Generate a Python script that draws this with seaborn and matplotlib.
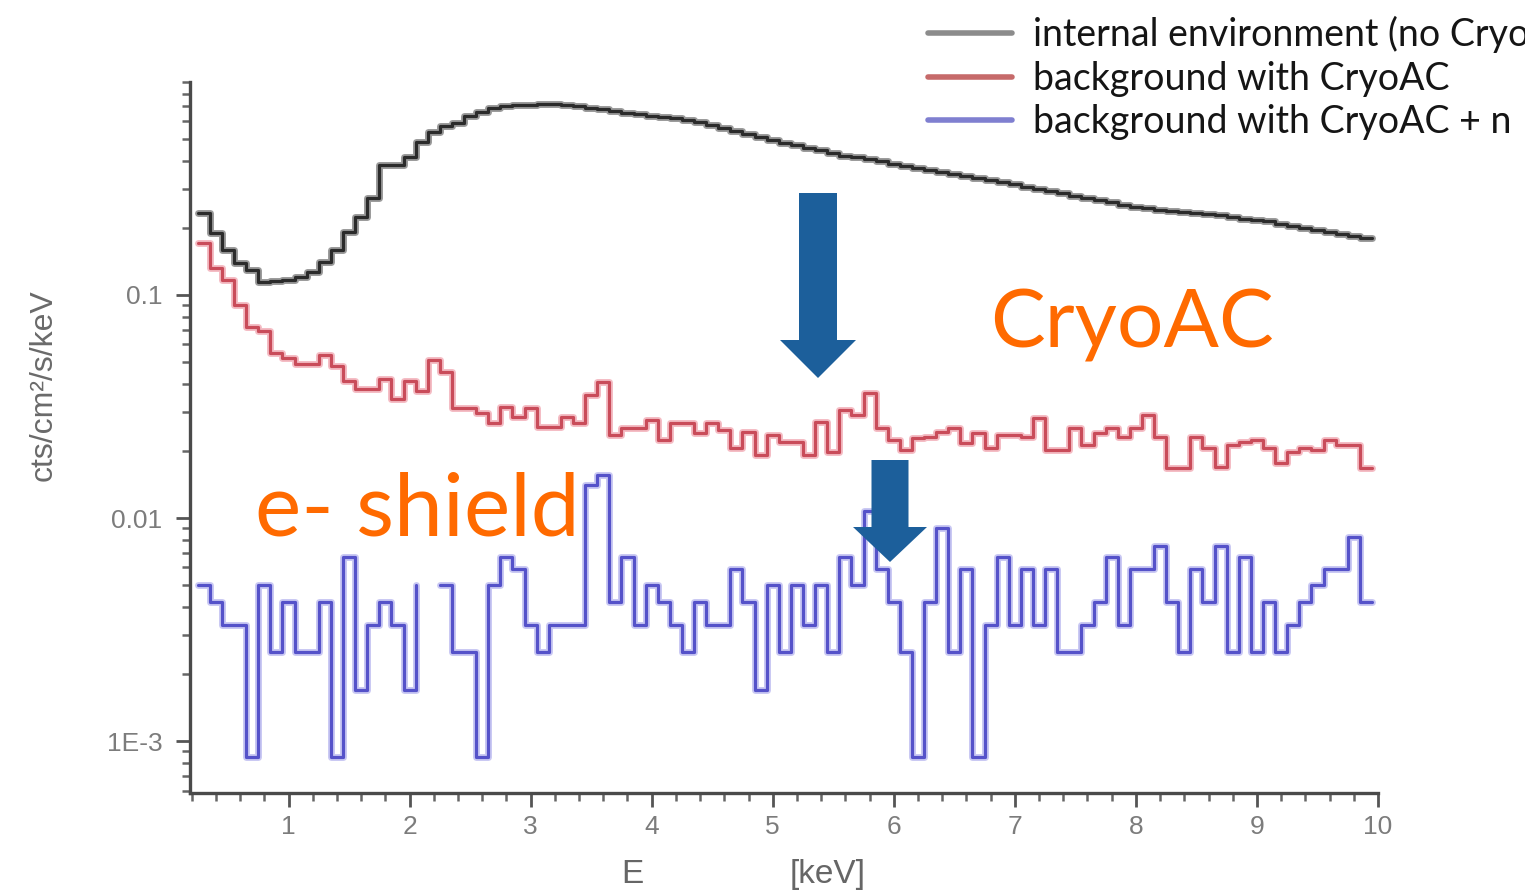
import numpy as np
import pandas as pd
import matplotlib
matplotlib.use("Agg")
import matplotlib.pyplot as plt
import matplotlib.ticker as mticker
import matplotlib.patheffects as pe
from matplotlib.lines import Line2D
from matplotlib.patches import FancyArrow
import seaborn as sns

# ---- energy binning (keV) -------------------------------------------------
bin_start = 0.25
bin_width = 0.1
n_bins = 97

# ---- spectra: cts/cm^2/s/keV per 0.1 keV bin ------------------------------
internal_env = [
    0.232, 0.189, 0.159, 0.139, 0.129, 0.114, 0.115, 0.117, 0.121, 0.127,
    0.141, 0.159, 0.192, 0.224, 0.271, 0.383, 0.383, 0.417, 0.487, 0.540,
    0.570, 0.590, 0.632, 0.664, 0.687, 0.700, 0.708, 0.714, 0.718, 0.716,
    0.712, 0.700, 0.690, 0.680, 0.665, 0.655, 0.645, 0.636, 0.628, 0.620,
    0.610, 0.596, 0.578, 0.560, 0.543, 0.527, 0.511, 0.496, 0.480, 0.470,
    0.456, 0.447, 0.433, 0.420, 0.415, 0.406, 0.398, 0.386, 0.378, 0.370,
    0.363, 0.356, 0.348, 0.341, 0.334, 0.328, 0.321, 0.314, 0.305, 0.299,
    0.293, 0.287, 0.278, 0.272, 0.267, 0.261, 0.253, 0.248, 0.245, 0.240,
    0.238, 0.235, 0.233, 0.231, 0.228, 0.224, 0.219, 0.217, 0.214, 0.208,
    0.204, 0.200, 0.195, 0.191, 0.187, 0.183, 0.180,
]

with_cryoac = [
    0.171, 0.132, 0.117, 0.090, 0.072, 0.069, 0.055, 0.052, 0.049, 0.049,
    0.054, 0.048, 0.041, 0.038, 0.038, 0.042, 0.034, 0.041, 0.037, 0.051,
    0.045, 0.031, 0.031, 0.0295, 0.0266, 0.0316, 0.0284, 0.031, 0.0257, 0.0257,
    0.0284, 0.0266, 0.0356, 0.0409, 0.0236, 0.0252, 0.0252, 0.0275, 0.0224, 0.0266,
    0.0266, 0.024, 0.0266, 0.0248, 0.0206, 0.0244, 0.0192, 0.0236, 0.022, 0.022,
    0.0192, 0.027, 0.0198, 0.0305, 0.029, 0.0362, 0.0252, 0.0224, 0.0202, 0.0228,
    0.0232, 0.0244, 0.0252, 0.0216, 0.024, 0.0206, 0.0236, 0.0236, 0.0232, 0.028,
    0.0202, 0.0202, 0.0252, 0.0212, 0.024, 0.0252, 0.0232, 0.0252, 0.029, 0.0232,
    0.0167, 0.0167, 0.0232, 0.0206, 0.017, 0.0212, 0.022, 0.0224, 0.0206, 0.0176,
    0.0198, 0.0206, 0.0202, 0.0224, 0.0212, 0.0212, 0.0167,
]

# nan marks an empty bin (no counts, not shown on the log axis)
with_cryoac_shield = [
    5.0e-3, 4.2e-3, 3.3e-3, 3.3e-3, 8.5e-4, 5.0e-3, 2.5e-3, 4.2e-3, 2.5e-3, 2.5e-3,
    4.2e-3, 8.5e-4, 6.7e-3, 1.7e-3, 3.3e-3, 4.2e-3, 3.3e-3, 1.7e-3, 5.0e-3, np.nan,
    5.0e-3, 2.5e-3, 2.5e-3, 8.5e-4, 5.0e-3, 6.7e-3, 5.9e-3, 3.3e-3, 2.5e-3, 3.3e-3,
    3.3e-3, 3.3e-3, 0.0141, 0.0156, 4.2e-3, 6.7e-3, 3.3e-3, 5.0e-3, 4.2e-3, 3.3e-3,
    2.5e-3, 4.2e-3, 3.3e-3, 3.3e-3, 5.9e-3, 4.2e-3, 1.7e-3, 5.0e-3, 2.5e-3, 5.0e-3,
    3.3e-3, 5.0e-3, 2.5e-3, 6.7e-3, 5.0e-3, 0.0107, 5.9e-3, 4.2e-3, 2.5e-3, 8.5e-4,
    4.2e-3, 9.0e-3, 2.5e-3, 5.9e-3, 8.5e-4, 3.3e-3, 6.7e-3, 3.3e-3, 5.9e-3, 3.3e-3,
    5.9e-3, 2.5e-3, 2.5e-3, 3.3e-3, 4.2e-3, 6.7e-3, 3.3e-3, 5.9e-3, 5.9e-3, 7.5e-3,
    4.2e-3, 2.5e-3, 5.9e-3, 4.2e-3, 7.5e-3, 2.5e-3, 6.7e-3, 2.5e-3, 4.2e-3, 2.5e-3,
    3.3e-3, 4.2e-3, 5.0e-3, 5.9e-3, 5.9e-3, 8.2e-3, 4.2e-3,
]

series_names = ["internal environment (no CryoAC)",
                "background with CryoAC",
                "background with CryoAC + n"]
series_values = [internal_env, with_cryoac, with_cryoac_shield]

y_tick_values = [1e-3, 1e-2, 1e-1]
y_tick_labels = ["1E-3", "0.01", "0.1"]
x_tick_values = [1, 2, 3, 4, 5, 6, 7, 8, 9, 10]

# ---- styling ---------------------------------------------------------------
line_colors = ["#2b2b2b", "#c94c5a", "#5552c9"]
halo_colors = ["#9a9a9a", "#f4bcc4", "#c9c8f3"]
legend_colors = ["#8c8c8c", "#c66a6a", "#7f7fd0"]
arrow_color = "#1c5f9b"
accent_color = "#ff6a00"

sns.set_theme(style="ticks")
plt.rcParams["font.family"] = ["Liberation Sans", "DejaVu Sans"]

edges = bin_start + bin_width * np.arange(n_bins + 1)


def histogram_rows(values, name):
    """Step-post vertices per bin; empty bins split the line into segments."""
    vals = np.asarray(values, dtype=float)
    rows, seg = [], 0
    for i, v in enumerate(vals):
        if np.isnan(v):
            seg += 1
            continue
        rows.append((edges[i], v, name, f"{name}#{seg}"))
    rows.append((edges[len(vals)], vals[-1], name, f"{name}#{seg}"))
    return rows


frames = []
for name, vals in zip(series_names, series_values):
    frames.append(pd.DataFrame(histogram_rows(vals, name),
                               columns=["E", "rate", "series", "segment"]))

fig = plt.figure(figsize=(15.25, 8.93), dpi=100)
ax = fig.add_axes([0.1246, 0.112, 0.779, 0.796])
ax.set_yscale("log")

for df, col, halo in zip(frames, line_colors, halo_colors):
    sns.lineplot(data=df, x="E", y="rate", units="segment", estimator=None,
                 sort=False, drawstyle="steps-post", color=col, linewidth=2.3,
                 legend=False, ax=ax,
                 path_effects=[pe.Stroke(linewidth=5.0, foreground=halo),
                               pe.Normal()])

ax.set_xlim(0.186, 10.0)
ax.set_ylim(5.85e-4, 0.9)

# axes, ticks
sns.despine(ax=ax)
for side in ("left", "bottom"):
    ax.spines[side].set_color("#4a4a4a")
    ax.spines[side].set_linewidth(2.4)

ax.xaxis.set_major_locator(mticker.FixedLocator(x_tick_values))
ax.xaxis.set_major_formatter(mticker.FixedFormatter([str(v) for v in x_tick_values]))
ax.xaxis.set_minor_locator(mticker.MultipleLocator(0.2))
ax.yaxis.set_major_locator(mticker.FixedLocator(y_tick_values))
ax.yaxis.set_major_formatter(mticker.FixedFormatter(y_tick_labels))
ax.yaxis.set_minor_locator(mticker.LogLocator(base=10, subs=np.arange(2, 10)))
ax.yaxis.set_minor_formatter(mticker.NullFormatter())

ax.tick_params(axis="both", which="major", direction="out", length=10, width=2,
               color="#555555", labelcolor="#7c7c7c", labelsize=19)
ax.tick_params(axis="both", which="minor", direction="out", length=6, width=1.8,
               color="#666666")
ax.tick_params(axis="x", which="major", pad=6)
ax.tick_params(axis="y", which="major", pad=10)

ax.set_xlabel("")
ax.set_ylabel("cts/cm²/s/keV", fontsize=23, color="#6a6a6a")
ax.yaxis.set_label_coords(-0.111, 0.574)
ax.text(0.372, -0.115, "E", transform=ax.transAxes, fontsize=24,
        color="#666666", ha="center", va="center")
ax.text(0.537, -0.115, "[keV]", transform=ax.transAxes, fontsize=24,
        color="#666666", ha="center", va="center")

# legend
handles = [Line2D([], [], color=c, lw=4) for c in legend_colors]
fig.legend(handles, series_names, loc="upper left",
           bbox_to_anchor=(928 / 1525, 1 - 16 / 893), frameon=False,
           prop={"family": "Lato", "size": 27}, labelcolor="#151515",
           handlelength=2.24, handletextpad=0.56, labelspacing=0.2,
           borderpad=0, borderaxespad=0)

# highlighted annotations
fig.text(990 / 1525, 1 - 347 / 893, "CryoAC", fontsize=59, family="Lato",
         color=accent_color, ha="left", va="baseline")
fig.text(255 / 1525, 1 - 535 / 893, "e- shield", fontsize=63, family="Lato",
         color=accent_color, ha="left", va="baseline")

for xc, ytop, ytip, w, hw, hl in [
        (818, 193, 378, 38, 76, 38),
        (890, 460, 562, 37, 74, 35)]:
    arrow = FancyArrow(xc / 1525, 1 - ytop / 893, 0, -(ytip - ytop) / 893,
                       width=w / 1525, head_width=hw / 1525,
                       head_length=hl / 893, length_includes_head=True,
                       transform=fig.transFigure, color=arrow_color, lw=0,
                       zorder=10)
    fig.add_artist(arrow)

fig.savefig("out.png", dpi=100)
